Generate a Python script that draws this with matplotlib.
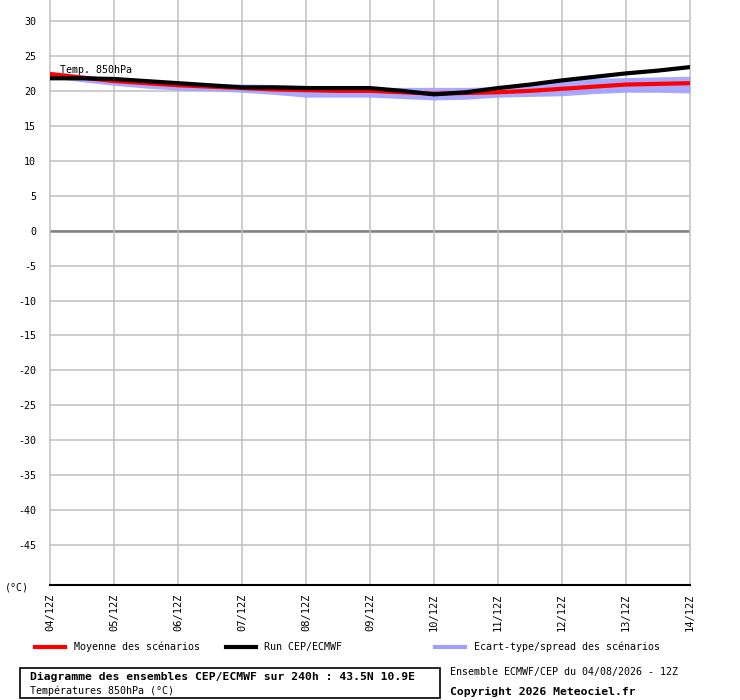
import matplotlib
matplotlib.use('Agg')
import matplotlib.pyplot as plt
import numpy as np

plt.rcParams['font.family'] = ['DejaVu Sans Mono']

# echeances toutes les 12h (en jours depuis le 04/12Z)
jours = np.arange(0, 10.5, 0.5)
run = [21.8, 21.8, 21.7, 21.4, 21.1, 20.8, 20.5, 20.5, 20.4, 20.4, 20.4,
       20.0, 19.5, 19.8, 20.4, 20.9, 21.5, 22.0, 22.5, 22.9, 23.4]
moyenne = [22.4, 21.9, 21.4, 21.1, 20.8, 20.6, 20.4, 20.2, 20.1, 20.0, 20.0,
           19.8, 19.6, 19.7, 19.8, 20.0, 20.3, 20.6, 20.9, 21.0, 21.1]
spread_haut = [22.8, 22.3, 21.8, 21.5, 21.2, 21.0, 21.0, 20.9, 20.8, 20.6, 20.5,
               20.5, 20.5, 20.5, 20.6, 21.0, 21.5, 21.8, 21.9, 22.0, 22.1]
spread_bas = [21.9, 21.3, 20.8, 20.4, 20.1, 20.0, 19.8, 19.5, 19.1, 19.1, 19.1,
              18.9, 18.7, 18.8, 19.1, 19.2, 19.3, 19.6, 19.8, 19.8, 19.7]
dates = ['04/12Z', '05/12Z', '06/12Z', '07/12Z', '08/12Z', '09/12Z',
         '10/12Z', '11/12Z', '12/12Z', '13/12Z', '14/12Z']
yticks = list(range(-45, 31, 5))

fig = plt.figure(figsize=(7.4, 7.0), dpi=100)
ax = fig.add_axes([50/740, 115/700, 640/740, 585/700])

ax.set_xlim(0, 10)
ax.set_ylim(-50.7, 33.0)

for v in yticks:
    ax.axhline(v, color='#c0c0c0', lw=1.1, zorder=1)
ax.axhline(0, color='#808080', lw=1.8, zorder=1)
for d in range(len(dates)):
    ax.axvline(d, color='#c0c0c0', lw=1.1, zorder=1, clip_on=False)

ax.fill_between(jours, spread_bas, spread_haut, color='#a0a0ff', alpha=0.9,
                lw=0, zorder=2)
ax.plot(jours, run, color='black', lw=3, zorder=4)
ax.plot(jours, moyenne, color='red', lw=3, zorder=3)

for s in ['top', 'left', 'right']:
    ax.spines[s].set_visible(False)
ax.spines['bottom'].set_color('black')
ax.spines['bottom'].set_linewidth(1.5)

ax.set_yticks(yticks)
ax.set_yticklabels([str(v) for v in yticks], fontsize=7.2)
ax.set_xticks(range(len(dates)))
ax.set_xticklabels(dates, rotation=90, fontsize=7.5)
ax.tick_params(axis='y', length=0, pad=10)
ax.tick_params(axis='x', length=0, pad=6)

ax.text(0.15, 22.2, 'Temp. 850hPa', fontsize=7.2, va='bottom', zorder=5)

fig.text(5/740, 1 - 587/700, '(°C)', fontsize=7.2, va='center')

# legende
ly = 1 - 647/700
fig.add_artist(plt.Line2D([35/740, 65/740], [ly, ly], color='red', lw=3))
fig.text(74/740, ly, 'Moyenne des scénarios', fontsize=7.2, va='center')
fig.add_artist(plt.Line2D([226/740, 256/740], [ly, ly], color='black', lw=3))
fig.text(264/740, ly, 'Run CEP/ECMWF', fontsize=7.2, va='center')
fig.add_artist(plt.Line2D([435/740, 465/740], [ly, ly], color='#a0a0ff', lw=3))
fig.text(474/740, ly, 'Ecart-type/spread des scénarios', fontsize=7.2, va='center')

# cadre du titre
fig.add_artist(plt.Rectangle((20/740, 1 - 698/700), 420/740, 30/700,
                             fill=False, ec='black', lw=1.2))
fig.text(30/740, 1 - 677/700,
         'Diagramme des ensembles CEP/ECMWF sur 240h : 43.5N 10.9E',
         fontsize=8.2, weight='bold', va='center')
fig.text(30/740, 1 - 691/700, 'Températures 850hPa (°C)', fontsize=7.2, va='center')
fig.text(450/740, 1 - 672/700, 'Ensemble ECMWF/CEP du 04/08/2026 - 12Z',
         fontsize=7.2, va='center')
fig.text(450/740, 1 - 692/700, 'Copyright 2026 Meteociel.fr', fontsize=8.2,
         weight='bold', va='center')

fig.savefig('out.png', dpi=100)
